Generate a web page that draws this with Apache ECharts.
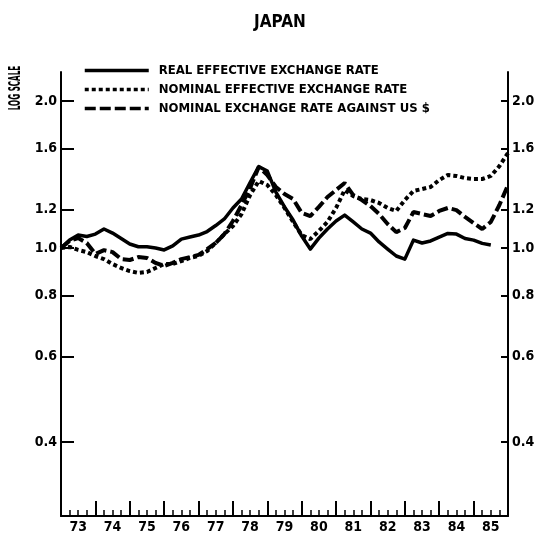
<!DOCTYPE html>
<html>
<head>
<meta charset="utf-8">
<script src="https://cdn.jsdelivr.net/npm/echarts@6/dist/echarts.min.js"></script>
<style>
  html, body { margin: 0; padding: 0; background: #fff; }
  #chart { width: 541px; height: 534px; }
</style>
</head>
<body>
<div id="chart"></div>
<script>
// Quarterly observation dates (fractional years)
const quarters = [
  1973, 1973.25, 1973.5, 1973.75, 1974, 1974.25, 1974.5, 1974.75,
  1975, 1975.25, 1975.5, 1975.75, 1976, 1976.25, 1976.5, 1976.75,
  1977, 1977.25, 1977.5, 1977.75, 1978, 1978.25, 1978.5, 1978.75,
  1979, 1979.25, 1979.5, 1979.75, 1980, 1980.25, 1980.5, 1980.75,
  1981, 1981.25, 1981.5, 1981.75, 1982, 1982.25, 1982.5, 1982.75,
  1983, 1983.25, 1983.5, 1983.75, 1984, 1984.25, 1984.5, 1984.75,
  1985, 1985.25, 1985.5, 1985.75, 1986
];

// Index values, 1973 = 1.0
const realEffective = [
  1.000, 1.038, 1.063, 1.056, 1.068, 1.094, 1.073, 1.046,
  1.019, 1.006, 1.006, 1.000, 0.991, 1.010, 1.043, 1.053,
  1.063, 1.081, 1.112, 1.147, 1.208, 1.260, 1.362, 1.468,
  1.438, 1.302, 1.214, 1.141, 1.058, 0.995, 1.048, 1.094,
  1.136, 1.168, 1.131, 1.094, 1.073, 1.029, 0.995, 0.963,
  0.949, 1.038, 1.024, 1.034, 1.053, 1.071, 1.068, 1.046,
  1.038, 1.022, 1.014
];
const nominalEffective = [
  1.000, 1.005, 0.991, 0.981, 0.963, 0.949, 0.927, 0.910,
  0.897, 0.889, 0.893, 0.910, 0.927, 0.927, 0.940, 0.954,
  0.963, 0.986, 1.024, 1.068, 1.109, 1.174, 1.284, 1.372,
  1.346, 1.284, 1.208, 1.131, 1.063, 1.043, 1.084, 1.131,
  1.208, 1.315, 1.278, 1.260, 1.254, 1.237, 1.208, 1.191,
  1.254, 1.309, 1.321, 1.334, 1.378, 1.411, 1.405, 1.391,
  1.385, 1.385, 1.405, 1.472, 1.566
];
const nominalUsd = [
  1.000, 1.034, 1.048, 1.024, 0.972, 0.990, 0.981, 0.949,
  0.945, 0.958, 0.954, 0.932, 0.919, 0.932, 0.949, 0.958,
  0.968, 0.995, 1.024, 1.068, 1.136, 1.225, 1.327, 1.466,
  1.411, 1.334, 1.290, 1.260, 1.180, 1.163, 1.214, 1.272,
  1.315, 1.359, 1.284, 1.254, 1.219, 1.174, 1.120, 1.078,
  1.099, 1.185, 1.174, 1.163, 1.191, 1.208, 1.196, 1.158,
  1.125, 1.094, 1.131, 1.225, 1.346
];

const seriesNames = [
  'REAL EFFECTIVE EXCHANGE RATE',
  'NOMINAL EFFECTIVE EXCHANGE RATE',
  'NOMINAL EXCHANGE RATE AGAINST US $'
];

// Axis marks
const yTickValues = [0.4, 0.6, 0.8, 1.0, 1.2, 1.6, 2.0];
const yearTicks = [1973, 1974, 1975, 1976, 1977, 1978, 1979, 1980, 1981, 1982, 1983, 1984, 1985, 1986];
const yearLabelPos = [1973.5, 1974.5, 1975.5, 1976.5, 1977.5, 1978.5, 1979.5, 1980.5, 1981.5, 1982.5, 1983.5, 1984.5, 1985.5];

const FONT = '"DejaVu Sans Condensed", "DejaVu Sans", sans-serif';
const pair = (vals) => vals.map((v, i) => [quarters[i], v]);

const yAxisBase = {
  type: 'log',
  logBase: 10,
  min: 0.2823,
  max: 2.295,
  splitLine: { show: false },
  axisLine: { show: true, lineStyle: { color: '#000', width: 2 } },
  axisLabel: {
    customValues: yTickValues,
    formatter: (v) => Number(v).toFixed(1),
    color: '#000', fontFamily: FONT, fontWeight: 'bold', fontSize: 14
  }
};

const chart = echarts.init(document.getElementById('chart'), null, { renderer: 'canvas' });
chart.setOption({
  backgroundColor: '#fff',
  animation: false,
  title: {
    text: 'JAPAN',
    left: 249,
    top: 9,
    textStyle: { color: '#000', fontFamily: FONT, fontWeight: 'bold', fontSize: 17 }
  },
  legend: {
    orient: 'vertical',
    left: 83,
    top: 64,
    padding: 0,
    itemWidth: 64,
    itemHeight: 12,
    itemGap: 6,
    data: seriesNames,
    itemStyle: { opacity: 0, color: 'transparent', borderWidth: 0 },
    lineStyle: { width: 3.5 },
    textStyle: { color: '#000', fontFamily: FONT, fontWeight: 'bold', fontSize: 13, padding: [0, 0, 0, 5] }
  },
  graphic: [{
    type: 'text',
    x: 16,
    y: 88,
    rotation: Math.PI / 2,
    scaleX: 0.5,
    style: {
      text: 'LOG SCALE',
      font: 'bold 16px ' + FONT,
      fill: '#000',
      align: 'center',
      verticalAlign: 'middle'
    }
  }],
  grid: { left: 61, right: 33, top: 72, bottom: 18, containLabel: false },
  xAxis: {
    type: 'value',
    min: 1973,
    max: 1986,
    interval: 1,
    splitLine: { show: false },
    axisLine: { show: true, lineStyle: { color: '#000', width: 2 } },
    axisTick: { show: true, inside: false, length: -15, customValues: yearTicks, lineStyle: { color: '#000', width: 2 } },
    minorTick: { show: true, splitNumber: 4, length: -6, lineStyle: { color: '#000', width: 1.5 } },
    minorSplitLine: { show: false },
    axisLabel: {
      customValues: yearLabelPos,
      formatter: (v) => String(Math.floor(v)).slice(2),
      margin: 4,
      color: '#000', fontFamily: FONT, fontWeight: 'bold', fontSize: 14
    }
  },
  yAxis: [
    Object.assign({}, yAxisBase, {
      position: 'left',
      axisTick: { show: true, inside: false, length: -13, customValues: yTickValues, lineStyle: { color: '#000', width: 2 } },
      axisLabel: Object.assign({}, yAxisBase.axisLabel, { margin: 4 })
    }),
    Object.assign({}, yAxisBase, {
      position: 'right',
      axisTick: { show: true, inside: false, length: -7, customValues: yTickValues, lineStyle: { color: '#000', width: 2 } },
      axisLabel: Object.assign({}, yAxisBase.axisLabel, { margin: 4 })
    })
  ],
  series: [
    {
      name: seriesNames[0], type: 'line', yAxisIndex: 0, showSymbol: false, symbol: 'none',
      data: pair(realEffective),
      lineStyle: { color: '#000', width: 3.5, type: 'solid', join: 'round' },
      itemStyle: { color: '#000' }
    },
    {
      name: seriesNames[1], type: 'line', yAxisIndex: 0, showSymbol: false, symbol: 'none',
      data: pair(nominalEffective),
      lineStyle: { color: '#000', width: 4, type: [4, 3] },
      itemStyle: { color: '#000' }
    },
    {
      name: seriesNames[2], type: 'line', yAxisIndex: 0, showSymbol: false, symbol: 'none',
      data: pair(nominalUsd),
      lineStyle: { color: '#000', width: 4, type: [11, 4] },
      itemStyle: { color: '#000' }
    }
  ]
});
</script>
</body>
</html>
